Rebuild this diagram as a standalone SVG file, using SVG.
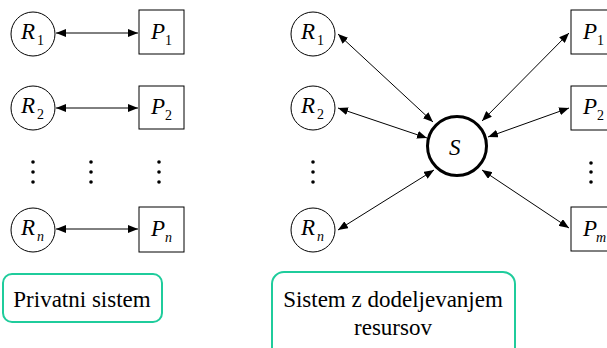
<svg xmlns="http://www.w3.org/2000/svg" width="607" height="348" viewBox="0 0 607 348">
<style>
.node circle, .node rect { fill: #fff; stroke: #000; stroke-width: 1; }
.it { font-style: italic; font-size: 23px; }
.sub { font-size: 14px; }
.subi { font-style: italic; font-size: 14px; }
.lbl { font-size: 23px; text-anchor: middle; }
.frame { fill: #fff; stroke: #1fcc9c; stroke-width: 2; }
.conn line { stroke: #000; stroke-width: 1; marker-start: url(#ah); marker-end: url(#ah); }
.dot { fill: #000; }
</style>
<defs>
<marker id="ah" viewBox="0 0 10 8" refX="10" refY="4" markerWidth="10" markerHeight="8" markerUnits="userSpaceOnUse" orient="auto-start-reverse">
<path d="M0,0 L10,4 L0,8 Z" fill="#000"/>
</marker>
</defs>
<rect width="607" height="348" fill="#fff"/>

<g id="connectors" class="conn">
<line x1="56" y1="33" x2="138" y2="33"/>
<line x1="56" y1="108" x2="138" y2="108"/>
<line x1="56" y1="229" x2="138" y2="229"/>
<line x1="338" y1="34" x2="433" y2="122"/>
<line x1="338" y1="108" x2="427" y2="138"/>
<line x1="338" y1="230" x2="434" y2="170"/>
<line x1="482" y1="121" x2="569" y2="33"/>
<line x1="488" y1="137" x2="569" y2="108"/>
<line x1="482" y1="170" x2="569" y2="228"/>
</g>

<g id="dots">
<circle class="dot" cx="33" cy="162" r="1.8"/><circle class="dot" cx="33" cy="172" r="1.8"/><circle class="dot" cx="33" cy="182" r="1.8"/>
<circle class="dot" cx="91" cy="162" r="1.8"/><circle class="dot" cx="91" cy="172" r="1.8"/><circle class="dot" cx="91" cy="182" r="1.8"/>
<circle class="dot" cx="159" cy="162" r="1.8"/><circle class="dot" cx="159" cy="172" r="1.8"/><circle class="dot" cx="159" cy="182" r="1.8"/>
<circle class="dot" cx="313" cy="162" r="1.8"/><circle class="dot" cx="313" cy="172" r="1.8"/><circle class="dot" cx="313" cy="182" r="1.8"/>
<circle class="dot" cx="591" cy="163" r="1.8"/><circle class="dot" cx="591" cy="172" r="1.8"/><circle class="dot" cx="591" cy="182" r="1.8"/>
</g>

<g font-family="Liberation Serif, Times New Roman, Times, Tinos, DejaVu Serif, Noto Serif, serif" fill="#000">
<g id="L_R1" class="node"><circle cx="33" cy="34" r="22"/><text class="it" x="21" y="39">R</text><text class="sub" x="37" y="45">1</text></g>
<g id="L_R2" class="node"><circle cx="33" cy="108" r="22"/><text class="it" x="21" y="113">R</text><text class="sub" x="37" y="119">2</text></g>
<g id="L_Rn" class="node"><circle cx="33" cy="230" r="22"/><text class="it" x="21" y="235">R</text><text class="subi" x="37" y="241">n</text></g>
<g id="L_P1" class="node"><rect x="139" y="10" width="45" height="44"/><text class="it" x="151" y="39">P</text><text class="sub" x="165" y="45">1</text></g>
<g id="L_P2" class="node"><rect x="139" y="86" width="45" height="43"/><text class="it" x="151" y="114">P</text><text class="sub" x="165" y="120">2</text></g>
<g id="L_Pn" class="node"><rect x="139" y="207" width="45" height="45"/><text class="it" x="151" y="236">P</text><text class="subi" x="165" y="242">n</text></g>

<g id="R_R1" class="node"><circle cx="313" cy="34" r="22"/><text class="it" x="301" y="39">R</text><text class="sub" x="317" y="45">1</text></g>
<g id="R_R2" class="node"><circle cx="313" cy="108" r="22"/><text class="it" x="301" y="113">R</text><text class="sub" x="317" y="119">2</text></g>
<g id="R_Rn" class="node"><circle cx="313" cy="230" r="22"/><text class="it" x="301" y="235">R</text><text class="subi" x="317" y="241">n</text></g>
<g id="S" class="node"><circle cx="457" cy="146" r="29.5" style="stroke-width:3"/><text class="it" x="449" y="155">S</text></g>
<g id="R_P1" class="node"><rect x="571" y="10" width="45" height="44"/><text class="it" x="583" y="39">P</text><text class="sub" x="597" y="45">1</text></g>
<g id="R_P2" class="node"><rect x="571" y="86" width="45" height="44"/><text class="it" x="583" y="114">P</text><text class="sub" x="597" y="120">2</text></g>
<g id="R_Pm" class="node"><rect x="571" y="207" width="45" height="44"/><text class="it" x="583" y="236">P</text><text class="subi" x="596" y="242">m</text></g>

<g id="label_private"><rect class="frame" x="3" y="274" width="159" height="48" rx="9"/><text class="lbl" x="82" y="307">Privatni sistem</text></g>
<g id="label_shared"><rect class="frame" x="272" y="272" width="243" height="90" rx="12"/><text class="lbl" x="393" y="307">Sistem z dodeljevanjem</text><text class="lbl" x="393" y="335">resursov</text></g>
</g>
</svg>
